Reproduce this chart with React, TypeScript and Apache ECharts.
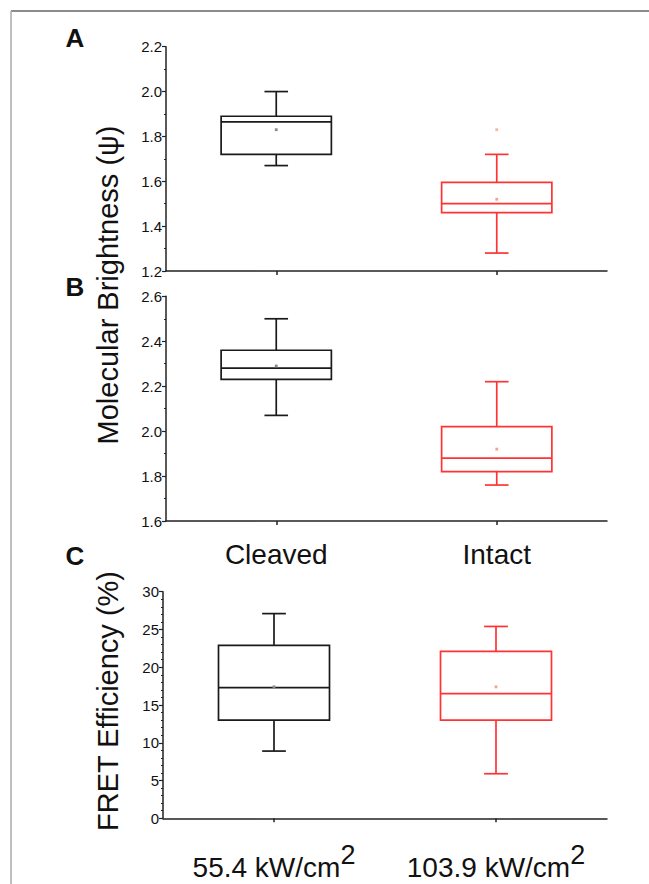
import React, { useEffect, useRef } from "react";
import * as echarts from "echarts";

const FONT = '"Liberation Sans", Arial, Helvetica, sans-serif';

const categories = ["Cleaved", "Intact"];
const powerBase = ["55.4 kW/cm", "103.9 kW/cm"];
const powerSup = ["2", "2"];
const boxColors = ["#1a1a1a", "#ff3333"];
const meanColors = ["#8a8a8a", "#f7a08c"];

// [low whisker, Q1, median, Q3, high whisker, mean]
const brightnessA_cleaved = [1.67, 1.72, 1.865, 1.89, 2.0, 1.83];
const brightnessA_intact = [1.28, 1.46, 1.5, 1.595, 1.72, 1.52];
const brightnessA_outliers = [[1, 1.83]];
const brightnessB_cleaved = [2.07, 2.23, 2.28, 2.36, 2.5, 2.29];
const brightnessB_intact = [1.76, 1.82, 1.88, 2.02, 2.22, 1.92];
const fret_55 = [8.9, 13.0, 17.3, 22.9, 27.1, 17.4];
const fret_103 = [5.9, 13.0, 16.5, 22.1, 25.4, 17.4];

const yTicksA = { min: 1.2, max: 2.2, interval: 0.2 };
const yTicksB = { min: 1.6, max: 2.6, interval: 0.2 };
const yTicksC = { min: 0, max: 30, interval: 5 };

function renderBox(params: any, api: any) {
  const x = api.value(0);
  const lo = api.coord([x, api.value(1)]);
  const q1 = api.coord([x, api.value(2)]);
  const med = api.coord([x, api.value(3)]);
  const q3 = api.coord([x, api.value(4)]);
  const hi = api.coord([x, api.value(5)]);
  const mean = api.coord([x, api.value(6)]);
  const band = api.size([1, 0])[0];
  const bw = band * 0.5;
  const cw = band * 0.107;
  const cx = lo[0];
  const color = boxColors[params.dataIndex];
  const ls = { stroke: color, lineWidth: 1.7, fill: "none" };
  return {
    type: "group",
    children: [
      { type: "line", shape: { x1: cx, y1: q3[1], x2: cx, y2: hi[1] }, style: ls },
      { type: "line", shape: { x1: cx - cw / 2, y1: hi[1], x2: cx + cw / 2, y2: hi[1] }, style: ls },
      { type: "line", shape: { x1: cx, y1: q1[1], x2: cx, y2: lo[1] }, style: ls },
      { type: "line", shape: { x1: cx - cw / 2, y1: lo[1], x2: cx + cw / 2, y2: lo[1] }, style: ls },
      {
        type: "rect",
        shape: { x: cx - bw / 2, y: q3[1], width: bw, height: q1[1] - q3[1] },
        style: ls,
      },
      { type: "line", shape: { x1: cx - bw / 2, y1: med[1], x2: cx + bw / 2, y2: med[1] }, style: ls },
      {
        type: "rect",
        shape: { x: cx - 1.4, y: mean[1] - 1.4, width: 2.8, height: 2.8 },
        style: { fill: meanColors[params.dataIndex], stroke: "none" },
      },
    ],
  };
}

function boxData(a: number[], b: number[]) {
  return [
    [0, ...a],
    [1, ...b],
  ];
}

export default function App() {
  const ref = useRef<HTMLDivElement>(null);
  useEffect(() => {
    if (!ref.current) return;
    const chart = echarts.init(ref.current, null, { renderer: "svg" });
    const axisLineStyle = { color: "#222", width: 1.5 };
    const tickLabel = { color: "#111", fontSize: 15, fontFamily: FONT, margin: 4 };
    const baseX = (i: number) => ({
      gridIndex: i,
      type: "category",
      data: categories,
      boundaryGap: true,
      axisLine: { lineStyle: axisLineStyle },
      axisTick: { show: true, alignWithLabel: true, length: 4, lineStyle: axisLineStyle },
      splitLine: { show: false },
    });
    const baseY = (i: number, t: any, dec: number, minorSplit: number) => ({
      gridIndex: i,
      type: "value",
      min: t.min,
      max: t.max,
      interval: t.interval,
      axisLine: { show: true, lineStyle: axisLineStyle },
      axisTick: { show: true, length: 4, lineStyle: { color: "#222", width: 1.2 } },
      minorTick: { show: true, splitNumber: minorSplit, length: 2, lineStyle: { color: "#222", width: 1 } },
      splitLine: { show: false },
      minorSplitLine: { show: false },
      axisLabel: { ...tickLabel, formatter: (v: number) => v.toFixed(dec) },
    });
    const option: any = {
      animation: false,
      backgroundColor: "#fff",
      grid: [
        { left: 166, right: 42, top: 46.7, height: 224.3 },
        { left: 166, right: 42, top: 296.3, height: 224.7 },
        { left: 163, right: 42, top: 591.7, height: 226.6 },
      ],
      xAxis: [
        { ...baseX(0), axisLabel: { show: false } },
        {
          ...baseX(1),
          axisLabel: { show: true, color: "#111", fontSize: 28, fontFamily: FONT, margin: 19 },
        },
        {
          ...baseX(2),
          axisLabel: {
            show: true,
            margin: 23,
            formatter: (_v: string, i: number) => `{b|${powerBase[i]}}{s|${powerSup[i]}}`,
            rich: {
              b: { fontSize: 28, fontFamily: FONT, color: "#111" },
              s: { fontSize: 27, fontFamily: FONT, color: "#111", padding: [0, 0, 26, 0] },
            },
          },
        },
      ],
      yAxis: [baseY(0, yTicksA, 1, 2), baseY(1, yTicksB, 1, 2), baseY(2, yTicksC, 0, 5)],
      series: [
        {
          type: "custom",
          xAxisIndex: 0,
          yAxisIndex: 0,
          renderItem: renderBox,
          encode: { x: 0, y: [1, 2, 3, 4, 5, 6] },
          data: boxData(brightnessA_cleaved, brightnessA_intact),
        },
        {
          type: "scatter",
          xAxisIndex: 0,
          yAxisIndex: 0,
          symbol: "rect",
          symbolSize: 2.8,
          itemStyle: { color: meanColors[1] },
          data: brightnessA_outliers,
        },
        {
          type: "custom",
          xAxisIndex: 1,
          yAxisIndex: 1,
          renderItem: renderBox,
          encode: { x: 0, y: [1, 2, 3, 4, 5, 6] },
          data: boxData(brightnessB_cleaved, brightnessB_intact),
        },
        {
          type: "custom",
          xAxisIndex: 2,
          yAxisIndex: 2,
          renderItem: renderBox,
          encode: { x: 0, y: [1, 2, 3, 4, 5, 6] },
          data: boxData(fret_55, fret_103),
        },
      ],
      graphic: [
        { type: "line", shape: { x1: 11, y1: 11, x2: 649, y2: 11 }, style: { stroke: "#666", lineWidth: 1.5 } },
        { type: "line", shape: { x1: 11, y1: 11, x2: 11, y2: 884 }, style: { stroke: "#aaa", lineWidth: 1.5 } },
        ...[
          ["A", 38],
          ["B", 287],
          ["C", 556],
        ].map(([t, y]) => ({
          type: "text",
          x: 75,
          y: y as number,
          style: {
            text: t as string,
            fontSize: 26,
            fontWeight: "bold",
            fontFamily: FONT,
            fill: "#111",
            align: "center",
            verticalAlign: "middle",
            textAlign: "center",
            textVerticalAlign: "middle",
          },
        })),
        ...[
          ["Molecular Brightness (\u03C8)", 285],
          ["FRET Efficiency (%)", 701],
        ].map(([t, y]) => ({
          type: "text",
          x: 108,
          y: y as number,
          rotation: Math.PI / 2,
          style: {
            text: t as string,
            fontSize: 29,
            fontFamily: FONT,
            fill: "#111",
            align: "center",
            verticalAlign: "middle",
            textAlign: "center",
            textVerticalAlign: "middle",
          },
        })),
      ],
    };
    chart.setOption(option);
    return () => chart.dispose();
  }, []);
  return (
    <div
      ref={ref}
      style={{ position: "fixed", left: 0, top: 0, width: 649, height: 884, background: "#fff" }}
    />
  );
}
